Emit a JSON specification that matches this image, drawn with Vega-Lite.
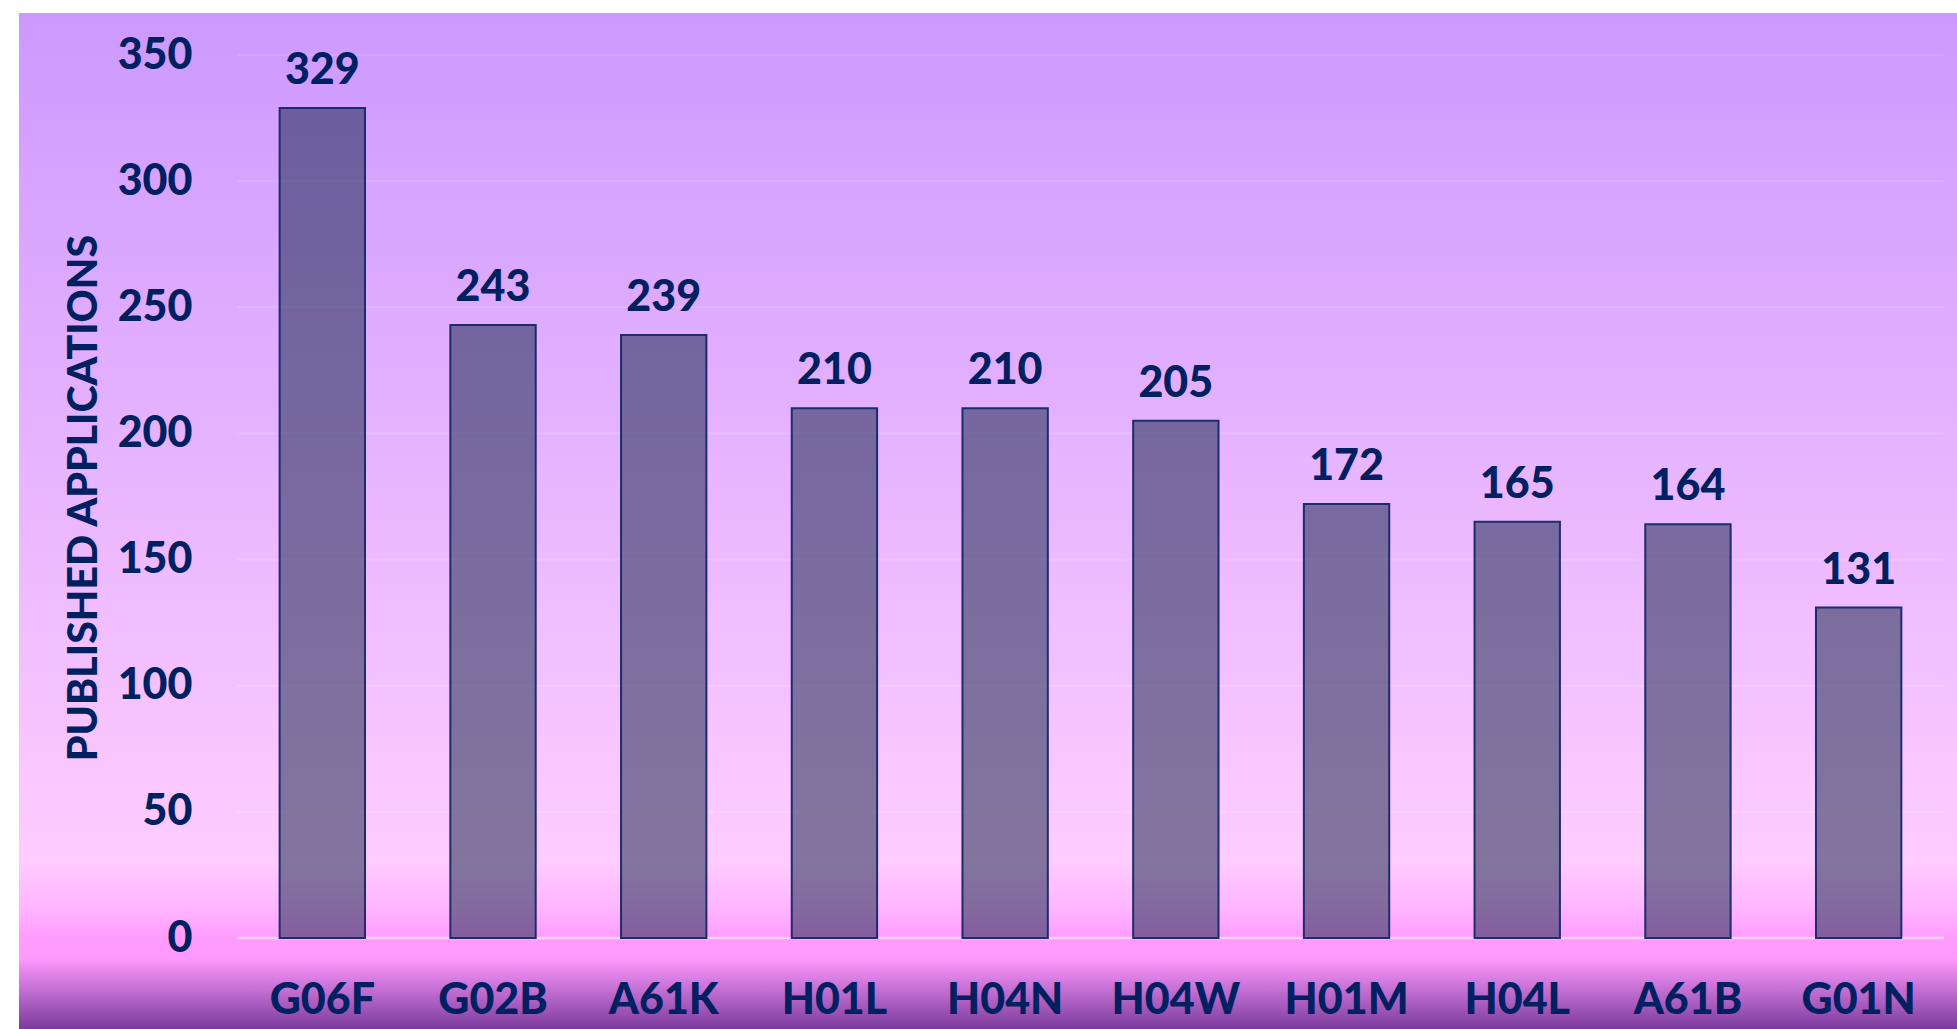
{
  "$schema": "https://vega.github.io/schema/vega-lite/v6.json",
  "width": 1938,
  "height": 1016,
  "autosize": {"type": "none"},
  "padding": {"left": 19, "top": 13, "right": 0, "bottom": 0},
  "background": "#FFFFFF",
  "view": {
    "stroke": null,
    "fill": {
      "gradient": "linear",
      "x1": 0, "y1": 0, "x2": 0, "y2": 1,
      "stops": [
        {"offset": 0, "color": "#CC99FF"},
        {"offset": 0.834, "color": "#FFCCFF"},
        {"offset": 0.88, "color": "#FFB6FF"},
        {"offset": 0.91, "color": "#FF9CFF"},
        {"offset": 0.93, "color": "#FF99FF"},
        {"offset": 1, "color": "#7A3B9C"}
      ]
    }
  },
  "config": {
    "axisX": {
      "orient": "bottom", "offset": -16, "labelBaseline": "alphabetic",
      "labelPadding": 0, "ticks": false, "domain": false, "grid": false, "labelAngle": 0,
      "labelFont": "Lato", "labelFontSize": 43, "labelFontWeight": 900, "labelColor": "#002060"
    },
    "axisY": {
      "grid": false, "ticks": false, "domain": false,
      "offset": -173, "labelPadding": 0, "labelAlign": "right", "labelBaseline": "middle",
      "labelFont": "Lato", "labelFontSize": 43, "labelFontWeight": 900, "labelColor": "#002060",
      "titleX": -108, "titleY": 484.5, "titleAngle": 270, "titleAlign": "center", "titleBaseline": "middle",
      "titleFont": "Lato", "titleFontSize": 41, "titleFontWeight": 900, "titleColor": "#002060"
    }
  },
  "datasets": {
    "bars": [
      {"code": "G06F", "n": 329},
      {"code": "G02B", "n": 243},
      {"code": "A61K", "n": 239},
      {"code": "H01L", "n": 210},
      {"code": "H04N", "n": 210},
      {"code": "H04W", "n": 205},
      {"code": "H01M", "n": 172},
      {"code": "H04L", "n": 165},
      {"code": "A61B", "n": 164},
      {"code": "G01N", "n": 131}
    ],
    "grid": [
      {"v": 0}, {"v": 50}, {"v": 100}, {"v": 150},
      {"v": 200}, {"v": 250}, {"v": 300}, {"v": 350}
    ]
  },
  "layer": [
    {
      "data": {"name": "grid"},
      "mark": {"type": "rule", "stroke": "#FFFFFF", "strokeWidth": 2.5},
      "encoding": {
        "y": {"field": "v", "type": "quantitative",
              "scale": {"domain": [-36.07, 366.65], "nice": false, "zero": false},
              "axis": {"title": "PUBLISHED APPLICATIONS", "values": [0, 50, 100, 150, 200, 250, 300, 350]}},
        "x": {"datum": "G06F", "type": "nominal", "bandPosition": -0.5,
              "scale": {"type": "band", "domain": ["G06F", "G02B", "A61K", "H01L", "H04N", "H04W", "H01M", "H04L", "A61B", "G01N"],
                        "paddingInner": 0.5, "paddingOuter": 0.9265, "align": 0.824},
              "axis": {"title": null}},
        "x2": {"datum": "G01N", "bandPosition": 1.5},
        "strokeOpacity": {"condition": {"test": "datum.v === 0", "value": 0.55}, "value": 0.12}
      }
    },
    {
      "data": {"name": "bars"},
      "mark": {"type": "bar", "fill": "#071D3F", "fillOpacity": 0.5, "stroke": "#1C2C6C", "strokeWidth": 2},
      "encoding": {
        "x": {
          "field": "code", "type": "nominal", "sort": null,
          "scale": {"type": "band", "domain": ["G06F", "G02B", "A61K", "H01L", "H04N", "H04W", "H01M", "H04L", "A61B", "G01N"],
                    "paddingInner": 0.5, "paddingOuter": 0.9265, "align": 0.824},
          "axis": {"title": null}
        },
        "y": {
          "field": "n", "type": "quantitative",
          "scale": {"domain": [-36.07, 366.65], "nice": false, "zero": false},
          "axis": {"title": "PUBLISHED APPLICATIONS", "values": [0, 50, 100, 150, 200, 250, 300, 350]}
        }
      }
    },
    {
      "data": {"name": "bars"},
      "mark": {"type": "text", "font": "Lato", "fontSize": 43, "fontWeight": 900, "color": "#002060",
               "align": "center", "baseline": "alphabetic", "dy": -24},
      "encoding": {
        "x": {"field": "code", "type": "nominal", "sort": null, "axis": {"title": null}},
        "y": {"field": "n", "type": "quantitative",
              "axis": {"title": "PUBLISHED APPLICATIONS", "values": [0, 50, 100, 150, 200, 250, 300, 350]}},
        "text": {"field": "n", "type": "quantitative", "format": "d"}
      }
    }
  ]
}
